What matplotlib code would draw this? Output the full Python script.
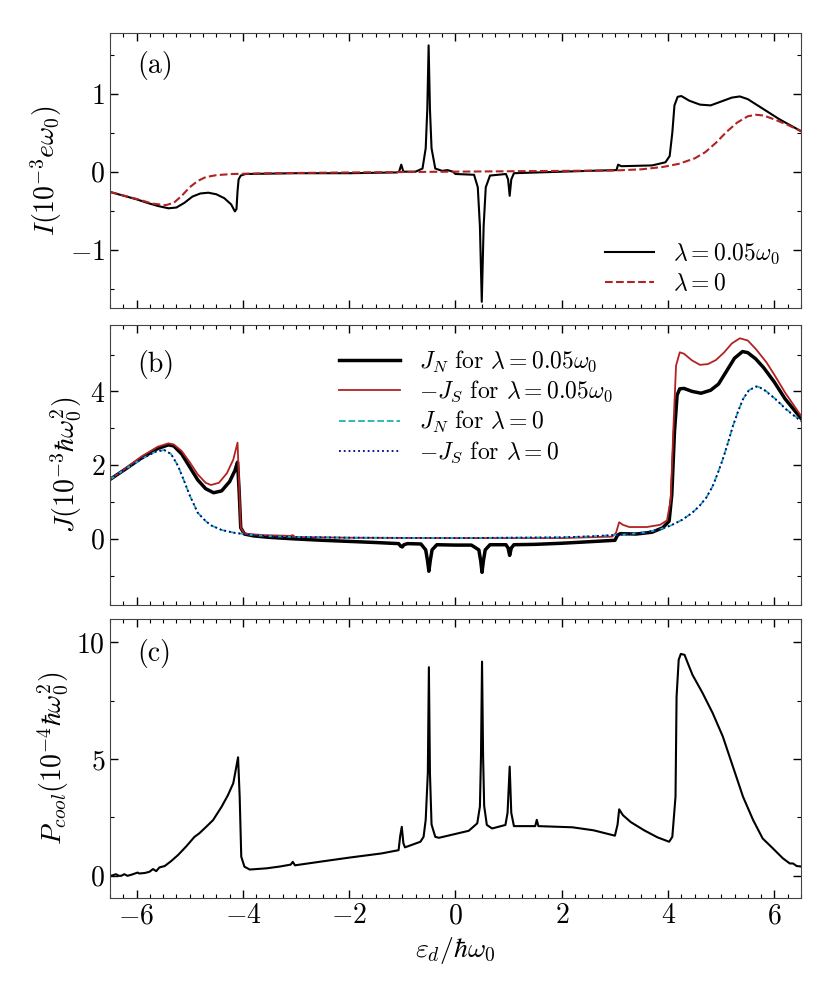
import matplotlib
matplotlib.use("Agg")
import matplotlib.pyplot as plt
from matplotlib.ticker import MultipleLocator

plt.rcParams['font.family'] = 'serif'
plt.rcParams['font.serif'] = ['cmr10']
plt.rcParams['mathtext.fontset'] = 'cm'
plt.rcParams['axes.formatter.use_mathtext'] = True
plt.rcParams['axes.unicode_minus'] = True

# panel (a): current I
a_lam_x = [-6.5, -6.0, -5.8, -5.6, -5.4, -5.25, -5.1, -4.95, -4.8, -4.65, -4.5, -4.35, -4.22, -4.15,
           -4.12, -4.10, -4.08, -4.04, -3.95, -3.0, -2.0, -1.1, -1.06, -1.02, -0.98, -0.75, -0.62,
           -0.56, -0.53, -0.505, -0.48, -0.45, -0.38, -0.25, -0.15, -0.05, 0.0, 0.35, 0.42, 0.46,
           0.495, 0.53, 0.57, 0.65, 0.95, 0.99, 1.02, 1.05, 1.10, 1.55, 2.5, 3.03, 3.06, 3.12, 3.7,
           3.95, 4.03, 4.08, 4.12, 4.18, 4.25, 4.4, 4.6, 4.8, 5.0, 5.2, 5.35, 5.5, 5.8, 6.1, 6.5]
a_lam_y = [-0.26, -0.355, -0.40, -0.44, -0.47, -0.46, -0.40, -0.32, -0.28, -0.27, -0.29, -0.34, -0.42,
           -0.51, -0.48, -0.25, -0.10, -0.05, -0.03, -0.02, -0.02, -0.01, 0.0, 0.09, 0.0, 0.0, 0.04,
           0.3, 0.8, 1.62, 0.8, 0.3, 0.04, 0.01, 0.02, 0.0, -0.03, -0.04, -0.2, -0.7,
           -1.67, -0.7, -0.2, -0.05, -0.03, -0.1, -0.31, -0.1, -0.02, -0.01, 0.01, 0.02, 0.09, 0.07, 0.08,
           0.12, 0.2, 0.5, 0.85, 0.96, 0.97, 0.91, 0.86, 0.85, 0.9, 0.95, 0.965, 0.93, 0.8, 0.67, 0.52]
a_zero_x = [-6.5, -6.0, -5.7, -5.45, -5.3, -5.15, -5.0, -4.85, -4.7, -4.5, -4.2, -3.5, -2.0, 0.0, 2.0,
            3.0, 3.5, 3.9, 4.2, 4.5, 4.7, 4.9, 5.1, 5.3, 5.5, 5.65, 5.8, 6.0, 6.25, 6.5]
a_zero_y = [-0.26, -0.35, -0.41, -0.43, -0.40, -0.31, -0.20, -0.12, -0.07, -0.045, -0.03, -0.02, -0.01,
            0.0, 0.01, 0.015, 0.03, 0.06, 0.1, 0.17, 0.25, 0.37, 0.51, 0.63, 0.71, 0.73, 0.72, 0.67,
            0.6, 0.52]

# panel (b): heat currents
jn_lam_x = [-6.5, -6.2, -5.9, -5.6, -5.4, -5.3, -5.15, -5.0, -4.85, -4.7, -4.55, -4.4, -4.25, -4.15,
            -4.1, -4.07, -4.04, -3.97, -3.8, -3.5, -3.05, -2.5, -2.0, -1.5, -1.07, -1.03, -1.0, -0.97,
            -0.9, -0.65, -0.56, -0.525, -0.5, -0.475, -0.44, -0.35, 0.0, 0.3, 0.44, 0.475, 0.5, 0.525,
            0.56, 0.65, 0.95, 0.99, 1.02, 1.05, 1.1, 1.5, 2.0, 2.5, 3.0, 3.05, 3.1, 3.4, 3.7, 3.9,
            4.02, 4.07, 4.12, 4.17, 4.22, 4.3, 4.45, 4.62, 4.8, 4.95, 5.1, 5.25, 5.4, 5.5, 5.65, 5.8,
            6.0, 6.2, 6.5]
jn_lam_y = [1.61, 1.9, 2.2, 2.45, 2.55, 2.52, 2.3, 1.95, 1.6, 1.36, 1.25, 1.3, 1.55, 1.85,
            2.08, 1.3, 0.3, 0.13, 0.08, 0.04, 0.0, -0.04, -0.07, -0.1, -0.13, -0.2, -0.22, -0.16,
            -0.13, -0.14, -0.3, -0.6, -0.88, -0.6, -0.3, -0.16, -0.17, -0.17, -0.3, -0.6, -0.91, -0.6,
            -0.3, -0.16, -0.16, -0.25, -0.45, -0.25, -0.16, -0.15, -0.12, -0.08, -0.04, 0.1, 0.14, 0.13,
            0.18, 0.3, 0.48, 1.2, 2.89, 3.9, 4.07, 4.08, 4.0, 3.95, 4.03, 4.2, 4.55, 4.9, 5.08, 5.05,
            4.88, 4.64, 4.25, 3.8, 3.27]
js_lam_x = [-6.5, -6.2, -5.9, -5.6, -5.4, -5.3, -5.15, -5.0, -4.85, -4.7, -4.6, -4.45, -4.3, -4.18,
            -4.1, -4.07, -4.04, -3.97, -3.6, -3.1, -3.06, -3.02, -2.0, 0.0, 2.0, 2.95, 3.02, 3.08,
            3.15, 3.27, 3.6, 3.85, 3.98, 4.05, 4.1, 4.15, 4.22, 4.3, 4.45, 4.6, 4.75, 4.9, 5.05, 5.2,
            5.35, 5.5, 5.65, 5.85, 6.0, 6.2, 6.5]
js_lam_y = [1.61, 1.92, 2.24, 2.5, 2.59, 2.56, 2.38, 2.08, 1.75, 1.52, 1.46, 1.52, 1.78, 2.15,
            2.61, 1.5, 0.3, 0.14, 0.1, 0.08, 0.1, 0.05, 0.03, 0.02, 0.02, 0.06, 0.16, 0.45,
            0.38, 0.32, 0.32, 0.38, 0.5, 1.07, 3.0, 4.7, 5.06, 5.02, 4.84, 4.72, 4.74, 4.85, 5.05, 5.3,
            5.44, 5.38, 5.15, 4.79, 4.45, 3.97, 3.34]
jn_zero_x = [-6.5, -6.2, -5.9, -5.65, -5.48, -5.35, -5.22, -5.1, -5.0, -4.85, -4.7, -4.59, -4.4,
             -4.15, -3.8, -3.5, -3.0, -2.0, 0.0, 2.0, 2.6, 3.2, 3.55, 3.83, 4.05, 4.27, 4.45, 4.59,
             4.72, 4.84, 4.94, 5.03, 5.13, 5.22, 5.32, 5.41, 5.52, 5.66, 5.78, 5.91, 6.05, 6.22, 6.5]
jn_zero_y = [1.61, 1.9, 2.17, 2.36, 2.41, 2.3, 1.98, 1.55, 1.18, 0.71, 0.48, 0.36, 0.24,
             0.16, 0.1, 0.07, 0.05, 0.03, 0.02, 0.04, 0.07, 0.12, 0.17, 0.25, 0.36, 0.52, 0.7, 0.89,
             1.12, 1.43, 1.8, 2.16, 2.62, 3.06, 3.47, 3.79, 4.03, 4.14, 4.08, 3.93, 3.76, 3.52, 3.2]
js_zero_x = list(jn_zero_x)
js_zero_y = [1.61, 1.9, 2.17, 2.36, 2.41, 2.3, 1.98, 1.55, 1.18, 0.71, 0.48, 0.36, 0.24,
             0.16, 0.1, 0.07, 0.05, 0.03, 0.02, 0.04, 0.07, 0.12, 0.17, 0.25, 0.36, 0.52, 0.7, 0.89,
             1.12, 1.43, 1.8, 2.16, 2.62, 3.06, 3.47, 3.79, 4.03, 4.13, 4.07, 3.92, 3.75, 3.51, 3.19]

# panel (c): cooling power
p_x = [-6.5, -6.45, -6.39, -6.33, -6.29, -6.23, -6.17, -6.08, -5.98, -5.95, -5.85, -5.76, -5.69,
       -5.63, -5.57, -5.47, -5.35, -5.22, -5.07, -4.91, -4.82, -4.69, -4.56, -4.4, -4.28, -4.18,
       -4.09, -4.06, -4.03, -3.97, -3.87, -3.56, -3.3, -3.1, -3.06, -3.02,
       -2.5, -2.0, -1.39, -1.07, -1.04, -1.01, -0.98, -0.95, -0.66, -0.6, -0.56, -0.52,
       -0.5, -0.48, -0.45, -0.38, -0.31, 0.25, 0.41, 0.46, 0.48, 0.5, 0.52, 0.54,
       0.59, 0.69, 0.94, 0.98, 1.02, 1.05, 1.1, 1.5, 1.53, 1.56, 2.2, 2.6, 3.0, 3.05, 3.08, 3.15,
       3.3, 3.55, 3.8, 4.02, 4.08, 4.14, 4.16, 4.2, 4.24, 4.31, 4.37, 4.46, 4.65, 4.84, 5.03,
       5.22, 5.41, 5.6, 5.78, 5.97, 6.16, 6.29, 6.35, 6.42, 6.5]
p_y = [0.0, 0.02, 0.07, 0.0, 0.0, 0.07, 0.0, 0.06, 0.14, 0.1, 0.12, 0.17, 0.29,
       0.2, 0.36, 0.42, 0.63, 0.89, 1.25, 1.67, 1.82, 2.1, 2.39, 2.96, 3.46, 3.97,
       5.08, 3.4, 0.82, 0.39, 0.27, 0.32, 0.4, 0.48, 0.6, 0.45,
       0.62, 0.78, 0.96, 1.1, 1.7, 2.1, 1.4, 1.22, 1.46, 1.67, 2.4, 4.4,
       8.94, 4.4, 2.2, 1.67, 1.63, 1.93, 2.25, 2.97, 5.1, 9.18, 5.1, 3.0,
       2.18, 2.03, 2.18, 2.7, 4.68, 2.7, 2.13, 2.13, 2.4, 2.13, 2.08, 1.95, 1.72, 2.2, 2.85, 2.6,
       2.3, 1.95, 1.65, 1.46, 1.67, 3.39, 7.68, 9.26, 9.51, 9.47, 9.12, 8.61, 7.83, 6.97, 5.97,
       4.68, 3.39, 2.39, 1.6, 1.18, 0.75, 0.53, 0.53, 0.42, 0.4]

fig = plt.figure(figsize=(8.3, 9.97), dpi=100)
left, width = 0.1325, 0.8325
ax1 = fig.add_axes([left, 0.691, width, 0.276])
ax2 = fig.add_axes([left, 0.393, width, 0.281])
ax3 = fig.add_axes([left, 0.0993, width, 0.2797])

fs = 20

ax1.plot(a_lam_x, a_lam_y, color='black', lw=1.5, label=r'$\lambda=0.05\omega_0$')
ax1.plot(a_zero_x, a_zero_y, color='#b22222', lw=1.5, ls='--', label=r'$\lambda=0$')
ax1.set_ylim(-1.75, 1.78)
ax1.yaxis.set_major_locator(MultipleLocator(1))
ax1.yaxis.set_minor_locator(MultipleLocator(0.5))
ax1.set_ylabel(r'$I(10^{-3}e\omega_0)$', fontsize=fs)
ax1.legend(loc='lower right', bbox_to_anchor=(1.0, -0.03), frameon=False, fontsize=17,
           handlelength=2.1, labelspacing=0.3)
ax1.text(0.04, 0.88, '(a)', transform=ax1.transAxes, fontsize=fs, va='center')

ax2.plot(jn_lam_x, jn_lam_y, color='black', lw=2.5, label=r'$J_N$ for $\lambda=0.05\omega_0$')
ax2.plot(js_lam_x, js_lam_y, color='#b22222', lw=1.3, label=r'$-J_S$ for $\lambda=0.05\omega_0$')
ax2.plot(jn_zero_x, jn_zero_y, color='#20b2aa', lw=1.3, ls='--', label=r'$J_N$ for $\lambda=0$')
ax2.plot(js_zero_x, js_zero_y, color='#00008b', lw=1.3, ls=':', label=r'$-J_S$ for $\lambda=0$')
ax2.set_ylim(-1.8, 5.8)
ax2.yaxis.set_major_locator(MultipleLocator(2))
ax2.yaxis.set_minor_locator(MultipleLocator(1))
ax2.set_ylabel(r'$J(10^{-3}\hbar\omega_0^2)$', fontsize=fs)
ax2.legend(loc='upper left', bbox_to_anchor=(0.3, 0.99), frameon=False, fontsize=17,
           handlelength=2.6, labelspacing=0.2)
ax2.text(0.04, 0.86, '(b)', transform=ax2.transAxes, fontsize=fs, va='center')

ax3.plot(p_x, p_y, color='black', lw=1.5)
ax3.set_ylim(-0.95, 11.0)
ax3.yaxis.set_major_locator(MultipleLocator(5))
ax3.yaxis.set_minor_locator(MultipleLocator(2.5))
ax3.set_ylabel(r'$P_{cool}(10^{-4}\hbar\omega_0^2)$', fontsize=fs)
ax3.set_xlabel(r'$\varepsilon_d/\hbar\omega_0$', fontsize=fs)
ax3.text(0.04, 0.875, '(c)', transform=ax3.transAxes, fontsize=fs, va='center')

for ax in (ax1, ax2, ax3):
    ax.set_xlim(-6.5, 6.5)
    ax.xaxis.set_major_locator(MultipleLocator(2))
    ax.xaxis.set_minor_locator(MultipleLocator(0.25))
    ax.tick_params(which='both', direction='in', top=True, right=True, labelsize=fs)
    ax.tick_params(which='major', length=6, width=1)
    ax.tick_params(which='minor', length=3, width=0.8)
    for s in ax.spines.values():
        s.set_color('#444444')
for ax in (ax1, ax2):
    ax.tick_params(labelbottom=False)

fig.align_ylabels([ax1, ax2, ax3])
fig.savefig('out.png', dpi=100)
